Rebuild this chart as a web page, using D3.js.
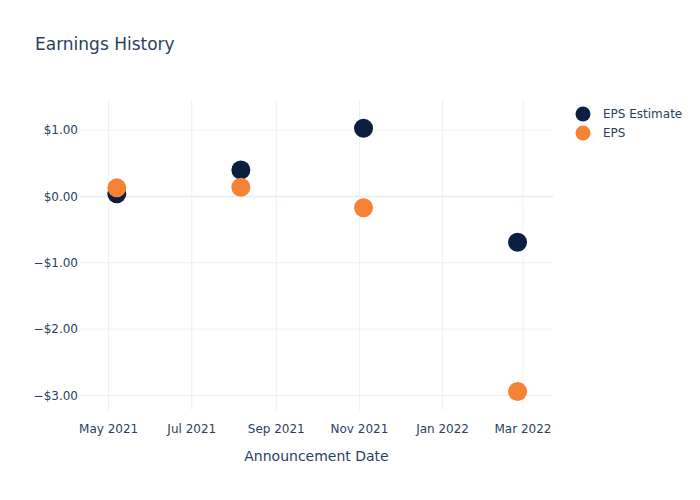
<!DOCTYPE html>
<html><head><meta charset="utf-8">
<script src="https://cdn.jsdelivr.net/npm/d3@7"></script>
<style>body{margin:0;background:#fff}text{font-family:"DejaVu Sans",Verdana,sans-serif}</style>
</head><body><svg id="c" width="700" height="500"></svg>
<script>
const dates = ["2021-05-07","2021-08-06","2021-11-04","2022-02-25"];
const epsEstimate = [0.04, 0.40, 1.03, -0.69];
const eps = [0.13, 0.14, -0.17, -2.94];
const xTickDates = ["2021-05-01","2021-07-01","2021-09-01","2021-11-01","2022-01-01","2022-03-01"];
const xTickLabels = ["May 2021","Jul 2021","Sep 2021","Nov 2021","Jan 2022","Mar 2022"];
const yTicks = [1, 0, -1, -2, -3];
const seriesNames = ["EPS Estimate","EPS"];
const colors = ["#0c1f40","#f58235"];

const p = d3.timeParse("%Y-%m-%d");
const svg = d3.select("#c");
const L=80, R=553, T=100, B=410;
const x = d3.scaleTime().domain([p("2021-04-10"), p("2022-03-23")]).range([L,R]);
const y = d3.scaleLinear().domain([1.455,-3.22]).range([T,B]);
const txt = "#2a3f5f", grid = "#ebf0f8";

svg.append("text").attr("x",35).attr("y",50).attr("font-size",17).attr("fill",txt).text("Earnings History");

const g = svg.append("g");
g.selectAll(".xg").data(xTickDates).join("line")
  .attr("x1",d=>x(p(d))).attr("x2",d=>x(p(d))).attr("y1",T).attr("y2",B)
  .attr("stroke",grid).attr("stroke-width",1);
g.selectAll(".yg").data(yTicks).join("line")
  .attr("x1",L).attr("x2",R).attr("y1",d=>y(d)).attr("y2",d=>y(d))
  .attr("stroke",grid).attr("stroke-width",d=>d===0?2:1);

const fmt = v => (v<0?"\u2212":"")+"$"+Math.abs(v).toFixed(2);
g.selectAll(".yl").data(yTicks).join("text")
  .attr("x",L-2).attr("y",d=>y(d)).attr("dy","0.35em").attr("text-anchor","end")
  .attr("font-size",12).attr("fill",txt).text(fmt);
g.selectAll(".xl").data(xTickDates).join("text")
  .attr("x",d=>x(p(d))).attr("y",433).attr("text-anchor","middle")
  .attr("font-size",12).attr("fill",txt).text((d,i)=>xTickLabels[i]);

svg.append("text").attr("x",(L+R)/2).attr("y",461).attr("text-anchor","middle")
  .attr("font-size",14).attr("fill",txt).text("Announcement Date");

[epsEstimate, eps].forEach((vals,si)=>{
  svg.append("g").selectAll("circle").data(vals).join("circle")
    .attr("cx",(d,i)=>x(p(dates[i]))).attr("cy",d=>y(d)).attr("r",9.5)
    .attr("fill",colors[si]);
});

const lg = svg.append("g");
seriesNames.forEach((n,i)=>{
  lg.append("circle").attr("cx",583).attr("cy",114+i*19).attr("r",7.5).attr("fill",colors[i]);
  lg.append("text").attr("x",603).attr("y",114+i*19).attr("dy","0.35em").attr("font-size",12).attr("fill",txt).text(n);
});
</script></body></html>
